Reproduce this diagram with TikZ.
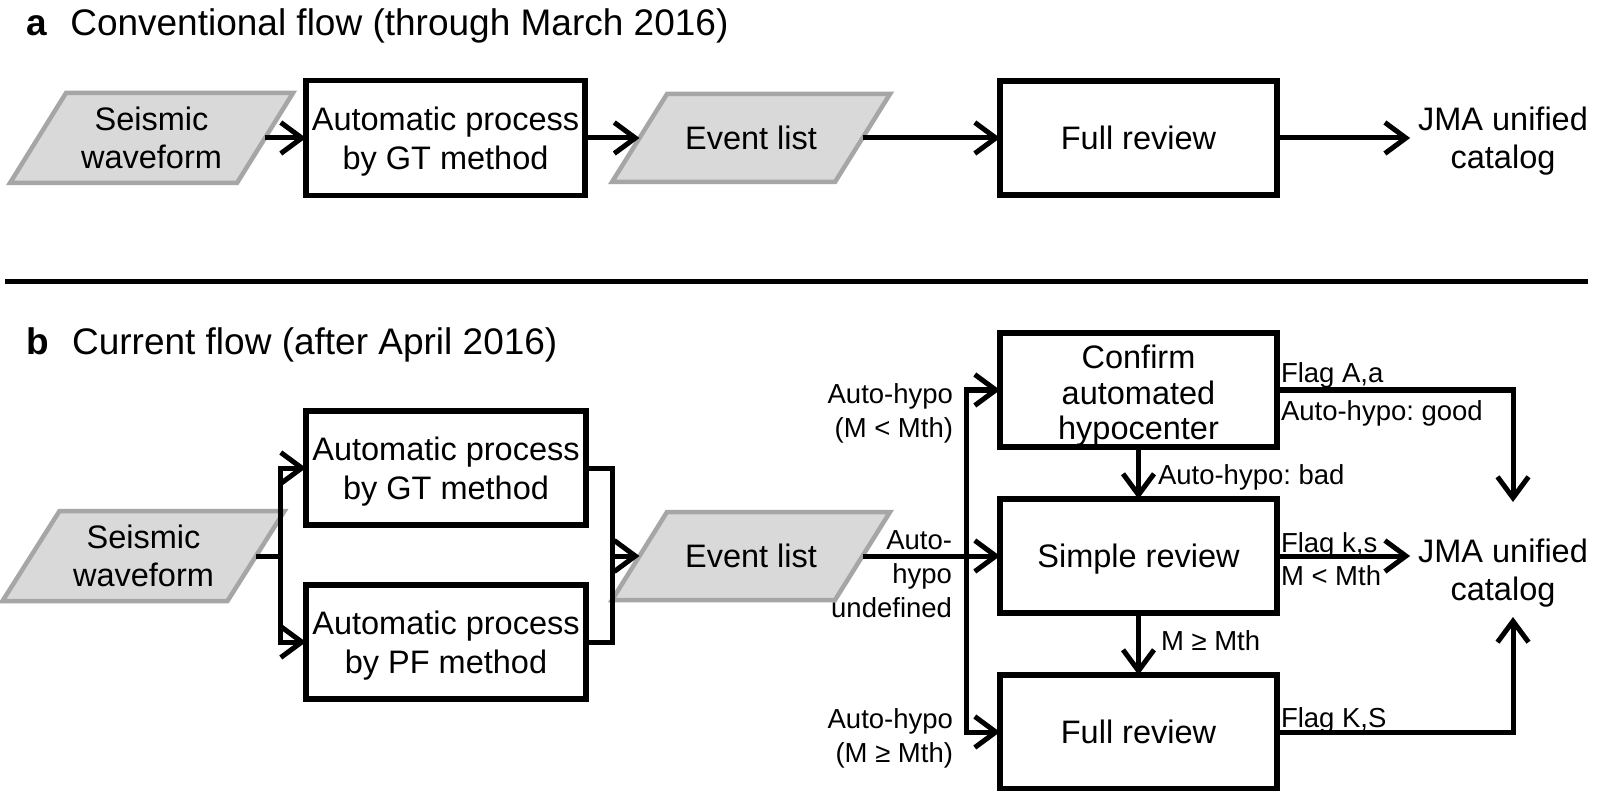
\documentclass[tikz,border=0pt]{standalone}
\usepackage{fontspec}
\setmainfont{Liberation Sans}
\frenchspacing
\usetikzlibrary{arrows.meta,calc}
\pgfdeclarelayer{bg}
\pgfsetlayers{bg,main}
\definecolor{pgfillc}{HTML}{D9D9D9}
\definecolor{pglinec}{HTML}{A6A6A6}
\newcommand\fmain{\fontsize{32.5}{38.5}\selectfont}
\newcommand\fconf{\fontsize{32.5}{35.5}\selectfont}
\newcommand\flab{\fontsize{27.5}{34}\selectfont}
\newcommand\ftitle{\fontsize{37}{44}\selectfont}
\newcommand\topstrut{\rule{0pt}{31pt}}
\tikzset{
  box/.style={draw, line width=5.5pt, inner sep=0pt, outer sep=0pt, align=center, font=\fmain},
  pgtext/.style={inner sep=0pt, outer sep=0pt, align=center, font=\fmain},
  pgram/.style={fill=pgfillc, draw=pglinec, line width=4.5pt, line join=miter},
  jma/.style={inner xsep=8pt, inner ysep=0pt, outer sep=0pt, align=center, font=\fmain},
  lab/.style={inner sep=0pt, outer sep=0pt, font=\flab},
  conn/.style={line width=5pt, line join=miter},
  arr/.style={conn, -{Straight Barb[length=21pt,width=31pt]}},
  ttl/.style={inner sep=0pt, outer sep=0pt, font=\ftitle, anchor=base west}
}
\begin{document}
\begin{tikzpicture}[x=1pt,y=-1pt]
\begin{pgfonlayer}{bg}
\fill[white] (0,0) rectangle (1598,791);
\end{pgfonlayer}
\useasboundingbox (0,0) rectangle (1598,791);

% ---------- titles ----------
\node[ttl] (titleA) at (27,36) {\textbf{a}\hspace{22.5pt}Conventional flow (through March 2016)};
\node[ttl] (titleB) at (27,355) {\textbf{b}\hspace{22.5pt}Current flow (after April 2016)};
\draw[line width=5pt] (5,282) -- (1588,282);

% ---------- panel a ----------
\node[pgtext, minimum width=227pt, minimum height=90pt] (seisA) at (151.5,138) {Seismic\\waveform};
\node[box, minimum width=279pt, minimum height=115pt] (gtA) at (445.5,138) {\topstrut Automatic process\\by GT method};
\node[pgtext, minimum width=223pt, minimum height=88pt] (evA) at (751,138) {Event list};
\node[box, minimum width=277pt, minimum height=114pt] (fullA) at (1138.5,138) {Full review};
\node[jma] (jmaA) at (1503,141.3) {JMA unified\\catalog};

\draw[arr] (seisA.east) -- (gtA.west);
\draw[arr] (gtA.east) -- (evA.west);
\draw[arr] (evA.east) -- (fullA.west);
\draw[arr] (fullA.east) -- (fullA.east -| jmaA.west);

% ---------- panel b ----------
\node[pgtext, minimum width=225pt, minimum height=90pt] (seisB) at (143.5,556) {Seismic\\waveform};
\node[box, minimum width=280pt, minimum height=114pt] (gtB) at (446,468) {\topstrut Automatic process\\by GT method};
\node[box, minimum width=280pt, minimum height=114pt] (pfB) at (446,642) {\topstrut Automatic process\\by PF method};
\node[pgtext, minimum width=223pt, minimum height=88pt] (evB) at (751,556) {Event list};
\node[box, minimum width=277pt, minimum height=114pt] (confirm) at (1138.5,390) {};
\node[inner sep=0pt, align=center, font=\fconf] (conftxt) at (1138.5,396) {Confirm\\automated\\hypocenter};
\node[box, minimum width=277pt, minimum height=114pt, text depth=0pt] (simple) at (1138.5,556) {Simple review};
\node[box, minimum width=277pt, minimum height=114pt] (fullB) at (1138.5,732) {Full review};
\node[jma] (jmaB) at (1503,573.3) {JMA unified\\catalog};

\coordinate (split) at (280,556);
\coordinate (merge) at (612,556);
\coordinate (bus) at (966,556);
\coordinate (jmaBtop) at (1513,502);
\coordinate (jmaBbot) at (1513,617);

\draw[arr] (seisB.east) -- (split) |- (gtB.west);
\draw[arr] (split) |- (pfB.west);
\draw[conn] (pfB.east) -| (merge);
\draw[arr] (gtB.east) -| (merge) -- (evB.west);
\draw[arr] (bus |- fullB.west) -- (bus |- confirm.west) -- (confirm.west);
\draw[arr] (bus |- confirm.west) -- (bus |- fullB.west) -- (fullB.west);
\draw[arr] (evB.east) -- (simple.west);
\draw[arr] (confirm.south) -- (simple.north);
\draw[arr] (simple.south) -- (fullB.north);
\draw[arr] (confirm.east) -- (confirm.east -| jmaBtop) -- (jmaBtop);
\draw[arr] (simple.east) -- (simple.east -| jmaB.west);
\draw[arr] (fullB.east) -- (fullB.east -| jmaBbot) -- (jmaBbot);

% labels
\node[lab, align=right, anchor=east] (l1) at (953,413) {Auto-hypo\\(M < Mth)};
\node[lab, align=right, anchor=east] (l2) at (952,574.2) {Auto-\\hypo\\undefined};
\node[lab, align=right, anchor=east] (l3) at (953,738) {Auto-hypo\\(M ≥ Mth)};
\node[lab, anchor=base west] (l4) at (1281,382.7) {Flag A,a};
\node[lab, anchor=base west] (l5) at (1281,420) {Auto-hypo: good};
\node[lab, anchor=base west] (l6) at (1158,484) {Auto-hypo: bad};
\node[lab, anchor=base west] (l7) at (1281,552) {Flag k,s};
\node[lab, anchor=base west] (l8) at (1281,585) {M < Mth};
\node[lab, anchor=base west] (l9) at (1161,650) {M ≥ Mth};
\node[lab, anchor=base west] (l10) at (1281,727) {Flag K,S};

% parallelogram outlines
\begin{pgfonlayer}{bg}
\draw[pgram] ([xshift=28pt]seisA.north west) -- ([xshift=28pt]seisA.north east) -- ([xshift=-28pt]seisA.south east) -- ([xshift=-28pt]seisA.south west) -- cycle;
\draw[pgram] ([xshift=27.5pt]evA.north west) -- ([xshift=27.5pt]evA.north east) -- ([xshift=-27.5pt]evA.south east) -- ([xshift=-27.5pt]evA.south west) -- cycle;
\draw[pgram] ([xshift=28.5pt]seisB.north west) -- ([xshift=28.5pt]seisB.north east) -- ([xshift=-28.5pt]seisB.south east) -- ([xshift=-28.5pt]seisB.south west) -- cycle;
\draw[pgram] ([xshift=27.5pt]evB.north west) -- ([xshift=27.5pt]evB.north east) -- ([xshift=-27.5pt]evB.south east) -- ([xshift=-27.5pt]evB.south west) -- cycle;
\end{pgfonlayer}
\end{tikzpicture}
\end{document}
